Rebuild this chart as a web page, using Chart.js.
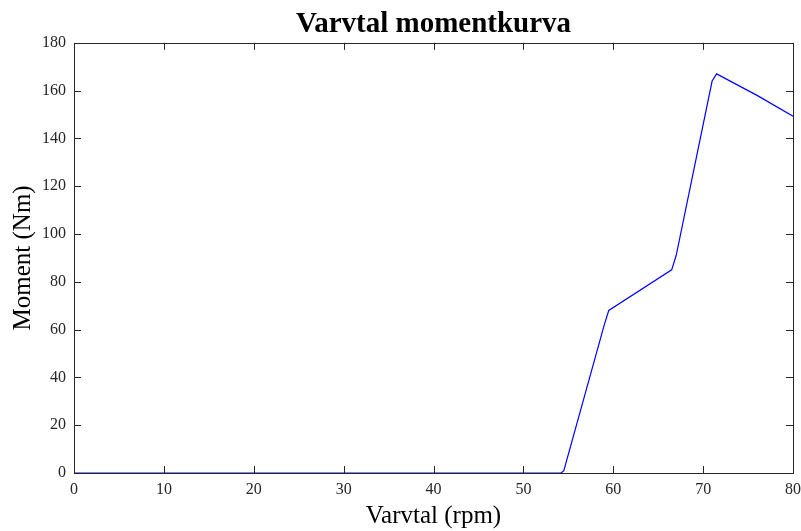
<!DOCTYPE html>
<html>
<head>
<meta charset="utf-8">
<script src="https://cdn.jsdelivr.net/npm/chart.js@4/dist/chart.umd.min.js"></script>
<style>
html,body{margin:0;padding:0;background:#fff;}
#wrap{width:801px;height:531px;}
</style>
</head>
<body>
<div id="wrap"><canvas id="c" width="801" height="531"></canvas></div>
<script>
const chartTitle = "Varvtal momentkurva";
const xLabel = "Varvtal (rpm)";
const yLabel = "Moment (Nm)";
const rpm    = [0, 54.2, 54.5, 59.0, 59.5, 66.5, 67.0, 71.0, 71.5, 76.0, 80.0];
const moment = [0, 0,    1,    62,   68,   85,   91,   164,  167,  158,  149.3];
const xTicks = [0, 10, 20, 30, 40, 50, 60, 70, 80];
const yTicks = [0, 20, 40, 60, 80, 100, 120, 140, 160, 180];

const axisColor = '#262626';
const serif = '"Liberation Serif", "Times New Roman", serif';

const boxTicks = {
  id: 'boxTicks',
  afterLayout(chart) {
    if (chart.titleBlock) {
      chart.titleBlock.left = chart.chartArea.left;
      chart.titleBlock.right = chart.chartArea.right;
    }
  },
  afterDraw(chart) {
    const {ctx, chartArea: a, scales} = chart;
    ctx.save();
    ctx.strokeStyle = axisColor;
    ctx.lineWidth = 1;
    const L = 7;
    ctx.beginPath();
    xTicks.forEach(v => {
      const px = Math.round(scales.x.getPixelForValue(v)) + 0.5;
      ctx.moveTo(px, a.bottom); ctx.lineTo(px, a.bottom - L);
      ctx.moveTo(px, a.top); ctx.lineTo(px, a.top + L);
    });
    yTicks.forEach(v => {
      const py = Math.round(scales.y.getPixelForValue(v)) + 0.5;
      ctx.moveTo(a.left, py); ctx.lineTo(a.left + L, py);
      ctx.moveTo(a.right, py); ctx.lineTo(a.right - L, py);
    });
    ctx.stroke();
    ctx.strokeRect(Math.round(a.left) + 0.5, Math.round(a.top) + 0.5,
                   Math.round(a.right - a.left), Math.round(a.bottom - a.top));
    ctx.restore();
  }
};

new Chart(document.getElementById('c'), {
  type: 'line',
  data: {
    datasets: [{
      data: rpm.map((x, i) => ({x: x, y: moment[i]})),
      borderColor: '#0000ff',
      borderWidth: 1.2,
      pointRadius: 0,
      fill: false,
      tension: 0
    }]
  },
  options: {
    responsive: false,
    animation: false,
    devicePixelRatio: 1,
    layout: {padding: {left: 0, right: 8, top: 0, bottom: 0}},
    plugins: {
      legend: {display: false},
      tooltip: {enabled: false},
      title: {
        display: true,
        text: chartTitle,
        color: '#000',
        font: {family: serif, size: 29, weight: 'bold', lineHeight: 1.2},
        padding: {top: 7, bottom: 1}
      }
    },
    scales: {
      x: {
        type: 'linear',
        min: 0, max: 80,
        afterFit(s) { s.height = 58; s.paddingRight = 0; s.paddingLeft = 0; },
        afterBuildTicks(s) { s.ticks = xTicks.map(v => ({value: v})); },
        grid: {display: false, drawTicks: false},
        border: {display: false},
        ticks: {color: axisColor, padding: 7, maxRotation: 0,
                font: {family: serif, size: 16}},
        title: {display: true, text: xLabel, color: '#000',
                font: {family: serif, size: 25}, padding: {top: 0, bottom: 0}}
      },
      y: {
        type: 'linear',
        min: 0, max: 180,
        afterFit(s) { s.width = 74; s.paddingTop = 0; s.paddingBottom = 0; },
        afterBuildTicks(s) { s.ticks = yTicks.map(v => ({value: v})); },
        grid: {display: false, drawTicks: false},
        border: {display: false},
        ticks: {color: axisColor, padding: 8,
                font: {family: serif, size: 16}},
        title: {display: true, text: yLabel, color: '#000',
                font: {family: serif, size: 25}, padding: {top: 8, bottom: 0}}
      }
    }
  },
  plugins: [boxTicks]
});
</script>
</body>
</html>
